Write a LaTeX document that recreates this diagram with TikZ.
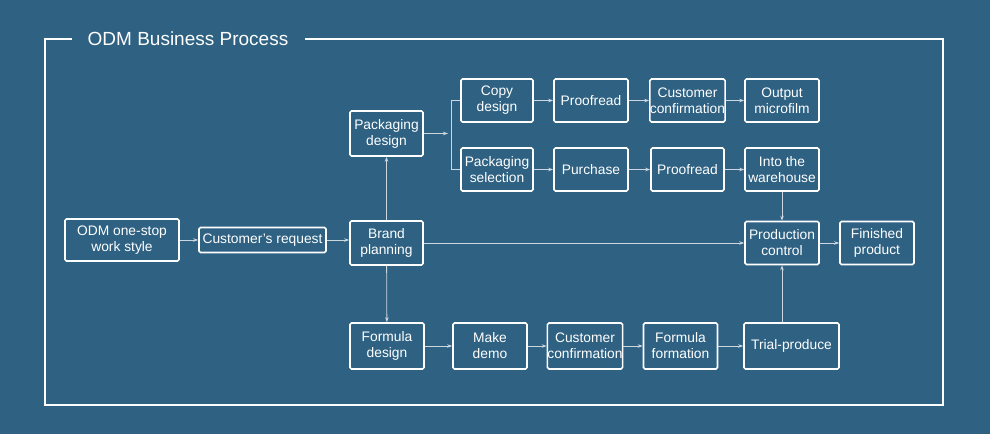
\documentclass[tikz,border=0pt]{standalone}
\usepackage{fontspec}
\setmainfont{Liberation Sans}
\usepackage{tikz}
\usetikzlibrary{arrows.meta}
\definecolor{bgblue}{RGB}{46,97,130}
\definecolor{linkgray}{RGB}{205,215,224}
\def\frameline{(72,39) -- (45,39) -- (45,405) -- (943,405) -- (943,39) -- (305,39)}
\tikzset{
  box/.style={draw=white,line width=1.6pt,rounded corners=1.5pt,text=white,
    minimum width=73pt,minimum height=43pt,inner sep=0pt,align=center,
    font=\fontsize{13.8}{16}\selectfont},
  link/.style={draw=linkgray,line width=0.8pt,-{Stealth[length=5pt,width=3.5pt]}}
}
\begin{document}
\begin{tikzpicture}[x=1pt,y=-1pt]
\useasboundingbox (0,0) rectangle (990,434);
\fill[bgblue] (0,0) rectangle (990,434);
\draw[white,line width=1.6pt] \frameline;
\node[text=white,font=\fontsize{19}{22}\selectfont] (title) at (188,38.5) {ODM Business Process};

\node[box,minimum width=114pt,minimum height=42pt] (odm) at (122,240) {ODM one-stop\\work style};
\node[box,minimum width=127pt,minimum height=25pt] (req) at (262.5,240) {Customer’s request};
\node[box,minimum height=44pt] (brand) at (386.5,243) {Brand\\planning};
\node[box,minimum height=45pt] (pack) at (386.5,133.5) {Packaging\\design};

\node[box,minimum width=72pt] (copy) at (497,100.5) {Copy\\design};
\node[box,minimum width=74pt] (proofa) at (591,100.5) {Proofread};
\node[box] (confa) at (687.5,100.5) {Customer\\confirmation};
\node[box,minimum width=74pt] (film) at (782,100.5) {Output\\microfilm};

\node[box,minimum width=72pt] (sel) at (497,169.5) {Packaging\\selection};
\node[box,minimum width=74pt] (buy) at (591,169.5) {Purchase};
\node[box] (proofb) at (687.5,169.5) {Proofread};
\node[box,minimum width=74pt] (ware) at (782,169.5) {Into the\\warehouse};

\node[box,minimum width=74pt] (ctrl) at (782,243) {Production\\control};
\node[box,minimum width=74pt] (fin) at (877,243) {Finished\\product};

\node[box,minimum width=74pt,minimum height=46pt] (form) at (387,346) {Formula\\design};
\node[box,minimum width=74pt,minimum height=46pt] (demo) at (490,346) {Make\\demo};
\node[box,minimum width=74pt,minimum height=46pt] (confb) at (585,346) {Customer\\confirmation};
\node[box,minimum width=74pt,minimum height=46pt] (formf) at (680.5,346) {Formula\\formation};
\node[box,minimum width=95pt,minimum height=46pt] (trial) at (791.5,346) {Trial-produce};

\coordinate (fork) at (448,133.5);
\coordinate (bar) at (451,133.5);

\draw[link] (odm) -- (req);
\draw[link] (req.east) -- (req.east -| brand.west);
\draw[link] (brand) -- (pack);
\draw[link] (brand) -- (form);
\draw[link] (brand.east) -- (brand.east -| ctrl.west);
\draw[link] (pack) -- (fork);
\draw[draw=linkgray,line width=0.8pt] (copy.west) -- (copy.west -| bar) -- (sel.west -| bar) -- (sel.west);

\draw[link] (copy) -- (proofa);
\draw[link] (proofa) -- (confa);
\draw[link] (confa) -- (film);
\draw[link] (sel) -- (buy);
\draw[link] (buy) -- (proofb);
\draw[link] (proofb) -- (ware);
\draw[link] (ware) -- (ctrl);
\draw[link] (ctrl) -- (fin);

\draw[link] (form) -- (demo);
\draw[link] (demo) -- (confb);
\draw[link] (confb) -- (formf);
\draw[link] (formf) -- (trial);
\draw[link] (trial.north -| ctrl) -- (ctrl.south);
\end{tikzpicture}
\end{document}
